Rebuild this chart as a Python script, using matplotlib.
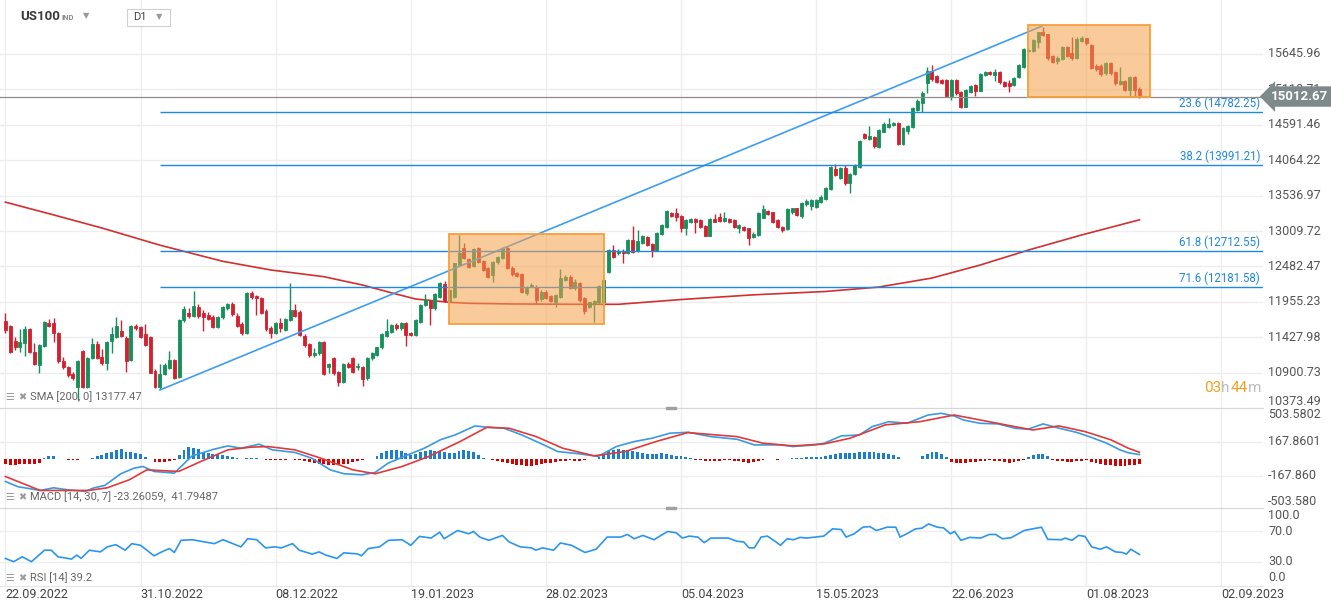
import matplotlib.pyplot as plt
import numpy as np
from matplotlib.patches import Rectangle

plt.rcParams['font.family'] = ['Roboto', 'DejaVu Sans']

# ---- daily candles, US100 (bar 0 = 22.09.2022) ----
opens = [
    11670, 11596, 11373, 11288, 11338, 11547, 11214, 11015, 11298, 11636,
    11646, 11487, 11080, 10980, 10876, 10693, 11224, 10693, 11125, 11328,
    11140, 11040, 11373, 11437, 11527, 11422, 11090, 11596, 11576, 11477,
    11437, 10926, 10693, 10881, 10975, 11090, 10832, 11685, 11795, 11745,
    11874, 11795, 11760, 11735, 11576, 11725, 11859, 11923, 11745, 11626,
    11497, 12083, 12043, 12008, 11825, 11561, 11487, 11646, 11542, 11685,
    11834, 11800, 11447, 11328, 11164, 11189, 11363, 10990, 11115, 10916,
    10767, 11025, 11115, 10980, 10980, 10817, 11115, 11164, 11278, 11447,
    11512, 11611, 11562, 11636, 11487, 11462, 11661, 11909, 11968, 11859,
    12033, 12217, 11968, 12033, 12504, 12753, 12589, 12495, 12753, 12564,
    12455, 12356, 12544, 12604, 12763, 12465, 12380, 12365, 12083, 12182,
    12182, 11998, 12107, 12048, 11949, 12033, 12281, 12331, 12157, 12231,
    12008, 11884, 11919, 11949, 11958, 12405, 12728, 12683, 12713, 12688,
    12877, 12713, 12837, 12926, 12817, 12728, 12971, 13075, 13284, 13284,
    13234, 13060, 13150, 13185, 13175, 13085, 12941, 13185, 13214, 13160,
    13185, 13175, 13060, 13065, 13050, 12926, 12951, 13209, 13314, 13289,
    13175, 13065, 13046, 13299, 13348, 13234, 13408, 13383, 13373, 13447,
    13487, 13631, 13930, 13795, 13944, 13720, 13859, 13969, 14450, 14375,
    14405, 14266, 14490, 14564, 14589, 14624, 14306, 14504, 14554, 14812,
    14921, 15219, 15398, 15318, 15259, 15259, 15020, 15259, 15085, 14862,
    15085, 15184, 15100, 15333, 15373, 15333, 15373, 15234, 15219, 15184,
    15308, 15457, 15695, 15690, 15829, 15968, 15938, 15616, 15542, 15567,
    15745, 15656, 15581, 15839, 15879, 15780, 15472, 15472, 15358, 15507,
    15383, 15194, 15244, 15110, 15308, 15125,
]
highs = [
    11795, 11610, 11437, 11546, 11596, 11560, 11340, 11330, 11670, 11695,
    11710, 11500, 11140, 11000, 10916, 11090, 11240, 11140, 11412, 11373,
    11260, 11380, 11586, 11735, 11686, 11440, 11610, 11620, 11600, 11621,
    11450, 10950, 11030, 11040, 11224, 11110, 11700, 11900, 11860, 12122,
    11920, 11830, 11800, 11760, 11750, 11900, 11940, 11960, 11790, 11650,
    12100, 12122, 12060, 12030, 11850, 11600, 11660, 11710, 11720, 12231,
    11930, 11830, 11470, 11350, 11264, 11380, 11380, 11050, 11130, 10930,
    11040, 11060, 11140, 11040, 11000, 11130, 11210, 11290, 11490, 11700,
    11630, 11640, 11660, 11650, 11500, 11700, 11920, 12070, 11990, 12090,
    12250, 12260, 12150, 12540, 12950, 12830, 12610, 12760, 12770, 12580,
    12470, 12570, 12640, 12770, 12780, 12490, 12400, 12380, 12190, 12230,
    12200, 12130, 12130, 12060, 12070, 12450, 12360, 12350, 12300, 12250,
    12030, 11960, 11990, 12210, 12290, 12740, 12800, 12740, 12740, 12890,
    13085, 13026, 12950, 12940, 12830, 12990, 13110, 13320, 13300, 13358,
    13250, 13190, 13200, 13200, 13190, 13100, 13200, 13260, 13280, 13289,
    13200, 13190, 13110, 13080, 13060, 12990, 13300, 13400, 13330, 13300,
    13190, 13080, 13350, 13360, 13360, 13440, 13480, 13490, 13480, 13540,
    13660, 13980, 14010, 13960, 13990, 13880, 14010, 14370, 14470, 14574,
    14420, 14530, 14640, 14688, 14640, 14640, 14560, 14590, 14850, 14980,
    15090, 15447, 15482, 15330, 15270, 15270, 15270, 15270, 15100, 15130,
    15190, 15200, 15370, 15400, 15390, 15420, 15390, 15250, 15260, 15310,
    15500, 15730, 15740, 15870, 15980, 16053, 15950, 15630, 15610, 15760,
    15760, 15904, 15900, 15920, 15890, 15800, 15490, 15490, 15520, 15520,
    15400, 15457, 15260, 15320, 15320, 15150,
]
lows = [
    11497, 11190, 11239, 11214, 11150, 11200, 11010, 10890, 11290, 11580,
    11363, 11040, 10960, 10840, 10792, 10494, 10680, 10680, 11100, 11110,
    11020, 10940, 11190, 11420, 11430, 10916, 11070, 11540, 11420, 11300,
    10890, 10667, 10660, 10860, 10960, 10800, 10820, 11660, 11720, 11730,
    11710, 11527, 11680, 11560, 11560, 11700, 11840, 11750, 11580, 11460,
    11480, 12000, 11760, 11780, 11520, 11420, 11470, 11510, 11520, 11670,
    11730, 11440, 11290, 11140, 11140, 11170, 10860, 10900, 10870, 10700,
    10750, 10970, 10890, 10940, 10700, 10790, 11090, 11150, 11260, 11430,
    11490, 11540, 11540, 11300, 11440, 11440, 11640, 11890, 11611, 11840,
    12010, 11950, 11950, 12010, 12490, 12600, 12460, 12470, 12530, 12410,
    12310, 12250, 12520, 12590, 12440, 12340, 12320, 12090, 12060, 12170,
    11920, 11970, 12000, 11950, 11880, 12010, 12260, 12140, 12130, 11960,
    11770, 11860, 11650, 11930, 11940, 12390, 12610, 12660, 12530, 12670,
    12678, 12700, 12820, 12790, 12629, 12710, 12950, 13060, 13220, 13165,
    13001, 12951, 13130, 12976, 13060, 12930, 12930, 13140, 13150, 13150,
    13130, 13060, 12976, 13010, 12802, 12900, 12940, 13200, 13250, 13130,
    13060, 12990, 13030, 13260, 13230, 13200, 13390, 13320, 13360, 13430,
    13470, 13620, 13830, 13780, 13700, 13571, 13840, 13950, 14380, 14360,
    14250, 14250, 14480, 14550, 14570, 14290, 14290, 14460, 14540, 14800,
    14780, 15070, 15250, 15220, 15200, 15000, 14960, 15040, 14840, 14850,
    15070, 15020, 15090, 15320, 15330, 15250, 15200, 15150, 15075, 15170,
    15290, 15440, 15680, 15680, 15740, 15910, 15560, 15510, 15500, 15550,
    15600, 15560, 15570, 15820, 15780, 15420, 15400, 15320, 15340, 15330,
    15190, 15180, 15090, 15010, 15010, 14990,
]
closes = [
    11537, 11214, 11288, 11353, 11547, 11214, 11025, 11313, 11656, 11596,
    11487, 11080, 10980, 10866, 10827, 11075, 10693, 11125, 11328, 11125,
    11040, 11363, 11472, 11596, 11447, 11080, 11596, 11561, 11437, 11313,
    10901, 10693, 10881, 11015, 11090, 10817, 11685, 11844, 11745, 11894,
    11750, 11735, 11695, 11576, 11735, 11884, 11923, 11770, 11601, 11497,
    12083, 12023, 12008, 11795, 11547, 11487, 11646, 11561, 11695, 11834,
    11750, 11467, 11313, 11164, 11199, 11363, 10881, 11030, 10891, 10767,
    11025, 10990, 10916, 11000, 10802, 11115, 11199, 11278, 11477, 11522,
    11611, 11562, 11636, 11462, 11462, 11686, 11909, 11983, 11859, 12073,
    12231, 11968, 12132, 12529, 12678, 12614, 12480, 12743, 12554, 12430,
    12331, 12554, 12629, 12753, 12455, 12365, 12346, 12107, 12167, 12207,
    11983, 12107, 12018, 11968, 12058, 12316, 12331, 12157, 12256, 11983,
    11820, 11949, 11968, 12197, 12281, 12728, 12629, 12718, 12678, 12877,
    12703, 12862, 12936, 12802, 12728, 12976, 13100, 13309, 13234, 13224,
    13060, 13175, 13185, 13150, 13075, 12941, 13185, 13150, 13165, 13199,
    13150, 13075, 13100, 13026, 12912, 12966, 13284, 13333, 13264, 13150,
    13075, 13026, 13333, 13348, 13249, 13423, 13457, 13472, 13467, 13522,
    13646, 13960, 13850, 13944, 13720, 13859, 13993, 14355, 14400, 14425,
    14276, 14515, 14604, 14604, 14624, 14306, 14539, 14574, 14837, 14951,
    15070, 15398, 15269, 15234, 15219, 15020, 15259, 15060, 14862, 15110,
    15169, 15100, 15348, 15383, 15343, 15373, 15224, 15170, 15174, 15293,
    15482, 15720, 15712, 15854, 15968, 15928, 15591, 15532, 15591, 15745,
    15621, 15581, 15869, 15889, 15805, 15442, 15423, 15343, 15507, 15358,
    15209, 15244, 15110, 15308, 15110, 15012.67,
]

# SMA 200 read at a few bars
sma_bars = [0, 10, 20, 32, 45, 55, 66, 74, 80, 85, 92, 96, 105, 119, 127,
            140, 155, 170, 181, 192, 202, 212, 223, 235]
sma_vals = [13440, 13250, 13055, 12800, 12560, 12430, 12330, 12206, 12090,
            11998, 11949, 11934, 11924, 11919, 11919, 11990, 12060, 12110,
            12176, 12310, 12504, 12727, 12951, 13177]

# MACD (14, 30, 7)
macd_x = [0, 2.6, 7.2, 10, 12.8, 16.5, 18.4, 20.6, 23.9, 26.7,
          28.5, 30.8, 35, 38.7, 43.2, 46.1, 48.8, 52.6, 55.3, 60,
          63.5, 67.3, 70.2, 73.9, 76.6, 79.3, 82.2, 86.8, 90.1, 93.2,
          97.3, 99.8, 103.3, 107, 110.8, 114.5, 119.1, 122.8, 126.6, 130.3,
          134, 137.7, 141.5, 146.2, 151.6, 155.2, 160.5, 163.2, 167.8, 169.7,
          173.2, 177, 179.6, 183.1, 186.8, 191.2, 193.9, 196.6, 198.5, 202,
          205.7, 209.3, 211.9, 215, 218.4, 221.9, 224.6, 228.2, 230.9, 232.7,
          235]
macd_vals = [-224, -276, -313, -287, -306, -322, -287, -263, -148, -92,
             -76, -125, -141, 30, 95, 128, 105, 145, 89, 63,
             6, -109, -148, -158, -135, -43, 16, 105, 188, 237,
             326, 313, 303, 237, 155, 72, 49, 23, 122, 171,
             204, 254, 263, 220, 194, 138, 138, 122, 138, 155,
             227, 237, 319, 368, 352, 434, 451, 425, 385, 352,
             346, 303, 293, 346, 303, 263, 220, 155, 90, 60,
             42]
signal_x = [0, 7.2, 17.3, 21.1, 25.7, 29.3, 35.9, 40.5, 46.1, 50.7,
            54.4, 60, 65.4, 72, 76.6, 82.2, 87.7, 94.2, 99.8, 104.4,
            110, 115.5, 122, 128.4, 134.8, 141.4, 151.6, 157, 163.3, 169.7,
            175, 182.3, 189.5, 196.6, 202, 208.4, 212.9, 218.3, 223.7, 229.1,
            232.7, 235]
signal_vals = [-175, -313, -313, -287, -207, -109, -125, -26, 89, 115,
               122, 89, 6, -109, -148, -76, 23, 171, 313, 303,
               220, 105, 30, 72, 171, 260, 220, 155, 128, 148,
               204, 336, 368, 434, 385, 326, 286, 326, 270, 188,
               105, 65]
hist = [
    -55, -65, -62, -55, -50, -50, -48, -45,
    5, 25, 30, 0,
    -5, -10, -12, -10, -5,
    0,
    10, 30, 40, 55, 70, 90, 95, 70, 70, 60, 45, 15,
    -5, -30, -28, -30, -25, -15,
    40, 85, 115, 110, 95, 70, 60,
    50, 45, 35, 25, 15, 5,
    -3, 5, 10, 5, -3,
    -12, -15, -15, -12, -10, -5, -10, -15, -20,
    -30, -40, -50, -55, -58, -60, -60, -55, -50, -35, -20,
    -8, -5, -3,
    30, 60, 80, 90, 85, 75, 60, 40, 50, 70, 80, 85, 80, 75, 70, 60, 60, 80, 85, 80, 65, 40,
    10, -5,
    -15, -25, -35, -45, -55, -60, -65, -68, -68, -65, -55, -45, -40, -35, -25, -20, -15, -20, -25, -15, -5,
    0,
    20, 45, 75, 90, 95, 90, 85, 75, 65, 60, 50, 45, 50, 55, 50, 40, 30, 25, 20, 10,
    -10, -15, -20, -20, -20, -18, -15, -15, -20, -25, -30, -38, -35, -20, -8,
    0, -5, -8, -5, 0, 5, 5,
    10, 15, 15, 15, 20, 25,
    40, 50, 55, 60, 55, 55, 65, 70, 70, 65, 60, 55, 50, 40, 20,
    -3, -5, -5, 0,
    30, 50, 70, 65, 45, 20,
    -30, -38, -40, -38, -35, -30, -25, -20, -15, -20, -25, -35, -38, -30, -20, -10,
    20, 40, 50, 45, 25,
    -15, -20, -25, -30, -28, -25, -20, -15,
    -30, -45, -55, -60, -65, -70, -72, -70, -65, -60, -55,
]

# RSI (14)
rsi_x = [0, 1.7, 3.5, 5.4, 8.1, 9.5, 10.9, 13.7, 14.8, 15.7,
         17.4, 19.7, 21.1, 22.9, 24.8, 26.2, 28, 30.8, 32.7, 34,
         35, 36.4, 38.7, 43.3, 45.1, 48.8, 50.2, 52.1, 53.9, 55.8,
         57.2, 59.5, 60.9, 63.6, 65, 66.4, 68.7, 70.1, 72.9, 73.8,
         75.2, 77.5, 79.4, 82.2, 84, 85.8, 88.2, 90, 90.9, 93.7,
         96, 97, 98.3, 100.2, 103, 104.4, 106.7, 109, 109.9, 111.3,
         113.6, 115, 117.3, 120.1, 122.4, 124.7, 127.5, 128.9, 130.3, 132.1,
         134.4, 137.2, 139, 140.3, 141.7, 143.5, 144.8, 146.2, 149.8, 151.6,
         153, 154.1, 155.2, 156.6, 157.9, 159.7, 160.6, 162, 163.3, 164.7,
         166, 167.8, 169.6, 171.4, 173.2, 174.2, 175.9, 177.7, 179.1, 180.5,
         182.7, 184.5, 185.4, 186.8, 188.6, 189.9, 191.3, 193.1, 194.4, 195.8,
         196.7, 198, 199.8, 202.1, 203.9, 205.2, 206.6, 208.4, 211.1, 212.9,
         214.7, 216, 218.8, 219.6, 221, 222.4, 223.7, 225.1, 226.9, 228.2,
         230, 231.4, 232.3, 233.2, 235]
rsi_vals = [34.3, 30.0, 36.5, 30.0, 45.2, 45.2, 36.5, 33.5, 38.7, 34.3,
            45.2, 43.0, 49.6, 52.6, 45.2, 53.9, 51.7, 37.8, 43.9, 47.4,
            42.2, 58.3, 59.1, 53.9, 59.1, 49.6, 60.4, 59.1, 48.3, 49.6,
            48.3, 53.9, 45.2, 40.0, 43.0, 38.7, 34.3, 41.7, 40.4, 37.8,
            47.4, 49.6, 58.3, 59.1, 51.7, 63.5, 61.3, 69.1, 60.4, 71.3,
            67.0, 70.0, 62.6, 58.3, 64.8, 56.1, 49.6, 48.3, 45.2, 48.3,
            45.2, 54.8, 51.7, 42.2, 46.5, 62.6, 62.6, 66.1, 60.4, 64.8,
            59.1, 70.0, 68.3, 61.3, 63.9, 62.6, 55.2, 61.3, 61.3, 57.0,
            56.1, 48.3, 48.3, 62.6, 63.9, 56.1, 51.7, 60.4, 59.1, 62.2,
            61.3, 62.6, 63.9, 73.5, 72.6, 62.6, 67.0, 75.7, 76.5, 71.3,
            75.7, 75.7, 62.6, 67.0, 73.5, 74.3, 80.0, 75.7, 74.8, 67.0,
            70.0, 58.3, 62.2, 61.3, 66.1, 66.1, 60.4, 61.7, 71.3, 73.5,
            75.7, 59.6, 59.1, 61.3, 58.3, 64.8, 63.5, 49.6, 46.5, 49.6,
            43.0, 42.2, 40.0, 46.5, 39.6]

# drawings: trend line, fibo levels, highlighted zones
trend_bars = [32, 214.8]
trend_vals = [10642.8, 16060.9]
fib_ratios = ['23.6', '38.2', '61.8', '71.6']
fib_levels = [14782.25, 13991.21, 12712.55, 12181.58]
zone_start = [92, 211.9]
zone_end = [124.1, 237.2]
zone_low = [11626, 15006]
zone_high = [12966, 16078]

price_ticks = [15645.96, 15118.71, 14591.46, 14064.22, 13536.97, 13009.72,
               12482.47, 11955.23, 11427.98, 10900.73, 10373.49]
date_bars = [0, 28, 56, 84, 112, 140, 168, 196, 224, 252]
date_labels = ['22.09.2022', '31.10.2022', '08.12.2022', '19.01.2023', '28.02.2023',
               '05.04.2023', '15.05.2023', '22.06.2023', '01.08.2023', '02.09.2023']

GREEN = '#14905a'
RED = '#d3202f'
LABEL = '#555555'

W, H = 1331, 611
fig = plt.figure(figsize=(W / 100, H / 100), dpi=100)


def panel(top, bottom):
    a = fig.add_axes([0, 1 - bottom / H, 1263 / W, (bottom - top) / H])
    a.set_xlim(-1.12, 260.6)
    for s in a.spines.values():
        s.set_visible(False)
    a.set_xticks([])
    a.set_yticks([])
    for b in date_bars:
        a.axvline(b, color='#eeeeee', lw=1, zorder=0)
    return a


def right_label(a, v, t, va='center', **kw):
    a.text(1.004, v, t, transform=a.get_yaxis_transform(), ha='left', va=va,
           fontsize=9, color=LABEL, clip_on=False, **kw)


# ---------- price panel ----------
ax = panel(0, 408)
ax.set_ylim(10375, 16450)
for v in price_ticks:
    ax.axhline(v, color='#eeeeee', lw=1, zorder=0)
    right_label(ax, v, f'{v:.2f}', va='bottom' if v < 10400 else 'center', zorder=3)

o, h, l, c = map(np.array, (opens, highs, lows, closes))
idx = np.arange(len(c))
col = np.where(c >= o, GREEN, RED)
ax.vlines(idx, l, h, colors=col, lw=1, zorder=3)
ax.bar(idx, np.maximum(np.abs(c - o), 12), bottom=np.minimum(o, c), width=0.62,
       color=col, edgecolor=col, lw=0.6, zorder=4)

ax.plot(sma_bars, sma_vals, color='#d32f2f', lw=1.2, zorder=2)
ax.plot(trend_bars, trend_vals, color='#3d9df5', lw=1.2, zorder=5)
ax.hlines(fib_levels, trend_bars[0], 261, color='#1e88e5', lw=1, zorder=5)
for r, lv in zip(fib_ratios, fib_levels):
    ax.annotate(f'{r} ({lv:.2f})', xy=(0.9978, lv), xycoords=('axes fraction', 'data'),
                xytext=(0, 1.5), textcoords='offset points', ha='right', va='bottom',
                fontsize=8.3, color='#1e88e5')

for x0, x1, lo, hi in zip(zone_start, zone_end, zone_low, zone_high):
    ax.add_patch(Rectangle((x0, lo), x1 - x0, hi - lo, facecolor=(0.96, 0.63, 0.29, 0.55),
                           edgecolor='#f4a03c', lw=1.3, zorder=6))

# last price line and tag (the tag hides part of the 15118.71 label, as in the terminal)
ax.axhline(closes[-1], color='#8c8c8c', lw=0.9, zorder=5)
ax.text(1271 / 1263, closes[-1], f'{closes[-1]:.2f}', transform=ax.get_yaxis_transform(),
        ha='left', va='center', fontsize=9.5, fontweight='bold', color='white', zorder=10,
        bbox=dict(boxstyle='larrow,pad=0.28', fc='#7d898b', ec='none'))

# ---------- MACD panel ----------
axm = panel(408, 508)
axm.set_ylim(-487, 503.58)
axm.spines['top'].set_visible(True)
axm.spines['top'].set_color('#d6d6d6')
for v in (167.86, -167.86):
    axm.axhline(v, color='#eeeeee', lw=1, zorder=0)
hv = np.array(hist)
axm.bar(idx, hv, width=0.6, color=np.where(hv >= 0, '#1a7fd1', '#d40000'), zorder=2)
axm.plot(macd_x, macd_vals, color='#3a9ae0', lw=1.2, zorder=3)
axm.plot(signal_x, signal_vals, color='#e03a3a', lw=1.2, zorder=3)
right_label(axm, 503.58, '503.5802', va='top')
right_label(axm, 167.86, '167.8601')
right_label(axm, -167.86, '-167.860')
right_label(axm, -487, '-503.580', va='bottom')

# ---------- RSI panel ----------
axr = panel(508, 586)
axr.set_ylim(-2.2, 101.1)
axr.spines['top'].set_visible(True)
axr.spines['top'].set_color('#d6d6d6')
axr.spines['bottom'].set_visible(True)
axr.spines['bottom'].set_color('#e6e6e6')
for v in (70, 30):
    axr.axhline(v, color='#eeeeee', lw=1, zorder=0)
axr.plot(rsi_x, rsi_vals, color='#2b95ef', lw=1.2, zorder=3)
right_label(axr, 100, '100.0', va='top')
right_label(axr, 70, '70.0')
right_label(axr, 30, '30.0')
right_label(axr, 0, '0.0', va='bottom')

axr.set_xticks(date_bars)
axr.set_xticklabels(date_labels, ha='left', fontsize=9, color='#444444')
axr.tick_params(axis='x', length=0, pad=1.5)


def ftext(x, y, s, **kw):
    fig.text(x / W, 1 - y / H, s, va='center', **kw)


# indicator captions
for y, cap in ((397, 'SMA [200, 0] 13177.47'),
               (497, 'MACD [14, 30, 7] -23.26059,  41.79487'),
               (578, 'RSI [14] 39.2')):
    ftext(5, y, '\u2630', fontsize=7, color='#9a9a9a')
    ftext(18, y, '\u2716', fontsize=7, color='#9a9a9a')
    ftext(30, y, cap, fontsize=8, color='#666666')

# countdown
ftext(1204, 388, '03', fontsize=11, color='#f5a021')
ftext(1221, 388, 'h', fontsize=11, color='#bdbdbd')
ftext(1231, 388, '44', fontsize=11, color='#f5a021')
ftext(1248, 388, 'm', fontsize=11, color='#bdbdbd')

# header
ftext(20, 17, 'US100', fontsize=9.5, fontweight='bold', color='#3a3a3a')
ftext(61, 18, 'IND', fontsize=5.5, fontweight='bold', color='#8a8a8a')
ftext(83, 16, '\u25bc', fontsize=6, color='#9a9a9a')
fig.add_artist(Rectangle((127 / W, 1 - 26 / H), 43 / W, 17 / H, transform=fig.transFigure,
                         facecolor='white', edgecolor='#d0d0d0', lw=0.8))
ftext(133, 17.5, 'D1', fontsize=8, color='#444444')
ftext(156, 16.5, '\u25bc', fontsize=6, color='#9a9a9a')

# panel resize handles
for y in (408, 508):
    fig.add_artist(Rectangle((666 / W, 1 - (y + 1.2) / H), 10 / W, 2.4 / H,
                             transform=fig.transFigure, color='#a0a0a0'))

fig.savefig('out.png', dpi=100)
